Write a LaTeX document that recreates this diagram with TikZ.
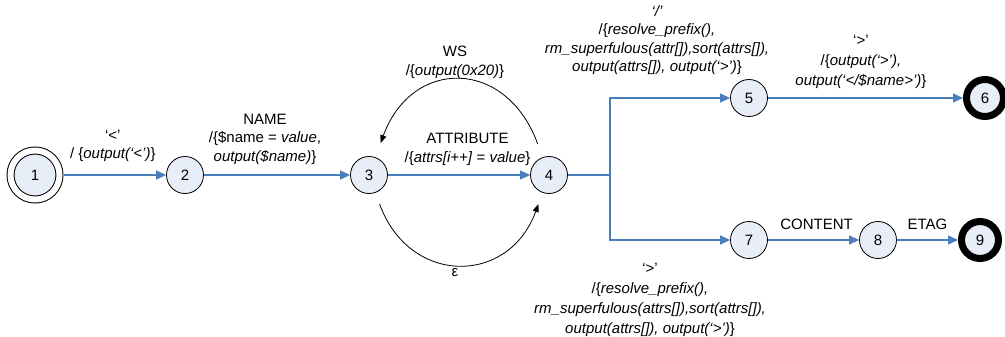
\documentclass[tikz,border=0pt]{standalone}
\usepackage{fontspec}
\setmainfont{Liberation Sans}
\usetikzlibrary{arrows.meta, positioning}

\definecolor{statefill}{RGB}{232,238,248}
\definecolor{transblue}{RGB}{74,126,187}
\newcommand{\lblfont}{\fontsize{15}{18.5}\selectfont}
\newcommand{\lblfontwide}{\fontsize{15}{20}\selectfont}

\begin{document}
\begin{tikzpicture}[x=1pt, y=-1pt,
  state/.style={circle, draw, fill=statefill, line width=0.8pt, minimum size=37pt, inner sep=0pt, font=\lblfont},
  initstate/.style={state, minimum size=49pt, double=white, double distance=6pt, line width=1pt, outer sep=4pt},
  finalstate/.style={state, line width=7pt},
  trans/.style={draw=transblue, line width=1.2pt, -{Triangle[length=10pt, width=9pt]}},
  loopedge/.style={draw=black, line width=0.8pt, -{Triangle[length=8pt, width=6pt]}},
  lbl/.style={align=center, inner sep=0pt, text=black, font=\lblfont}]
  \useasboundingbox (0,0) rectangle (1005,337);

  % states
  \node[initstate] (n1) at (35,175) {1};
  \node[state] (n2) at (185,175) {2};
  \node[state] (n3) at (369,175) {3};
  \node[state] (n4) at (549,175) {4};
  \node[state] (n5) at (749,98) {5};
  \node[finalstate] (n6) at (985,98) {6};
  \node[state] (n7) at (749,240) {7};
  \node[state] (n8) at (878,240) {8};
  \node[finalstate] (n9) at (980,240) {9};
  \coordinate (br) at (610,175);

  % transitions
  \draw[trans] (n1) -- (n2) node[lbl, midway, above=12.5pt, xshift=-2pt] (l12) {‘<’\\/ \{\textit{output(‘<’)}\}};
  \draw[trans] (n2) -- (n3) node[lbl, midway, above=10pt, xshift=-12pt] (l23) {NAME\\/\{\$name = \textit{value},\\\textit{output(\$name)}\}};
  \draw[trans] (n3) -- (n4) node[lbl, midway, above=9pt, xshift=8.5pt] (lattr) {ATTRIBUTE\\/\{\textit{attrs[i++]} = \textit{value}\}};
  \draw[loopedge, shorten <=14pt, shorten >=15pt] (n4) to[out=110, in=70, distance=106pt] node[lbl, midway, above=4pt, xshift=-4pt] (lws) {WS\\/\{\textit{output(0x20)}\}} (n3);
  \draw[loopedge, shorten <=12pt, shorten >=12pt] (n3) to[out=-70, in=-110, distance=99pt] node[lbl, midway, below=5pt, xshift=-4pt] (leps) {ε} (n4);

  \draw[trans, -] (n4) -- (br);
  \draw[trans] (br) |- (n5) node[lbl, pos=0.75, above=22.5pt, xshift=-13pt] (l45) {\textit{‘/’}\\/\{\textit{resolve\_prefix(),}\\\textit{rm\_superfulous(attr[]),sort(attrs[]),}\\\textit{output(attrs[]), output(‘>’)}\}};
  \draw[trans] (n5) -- (n6) node[lbl, midway, above=9pt, xshift=-4.5pt, font=\lblfontwide] (l56) {‘>’\\/\{\textit{output(‘>’),}\\\textit{output(‘</\$name>’)}\}};
  \draw[trans] (br) |- (n7) node[lbl, pos=0.75, below=23pt, xshift=-20pt, font=\lblfontwide] (l47) {‘>’\\/\{\textit{resolve\_prefix(),}\\\textit{rm\_superfulous(attrs[]),sort(attrs[]),}\\\textit{output(attrs[]), output(‘>’)}\}};
  \draw[trans] (n7) -- (n8) node[lbl, midway, above=9.5pt, xshift=3pt] (l78) {CONTENT};
  \draw[trans] (n8) -- (n9) node[lbl, midway, above=9.5pt] (l89) {ETAG};
\end{tikzpicture}
\end{document}
